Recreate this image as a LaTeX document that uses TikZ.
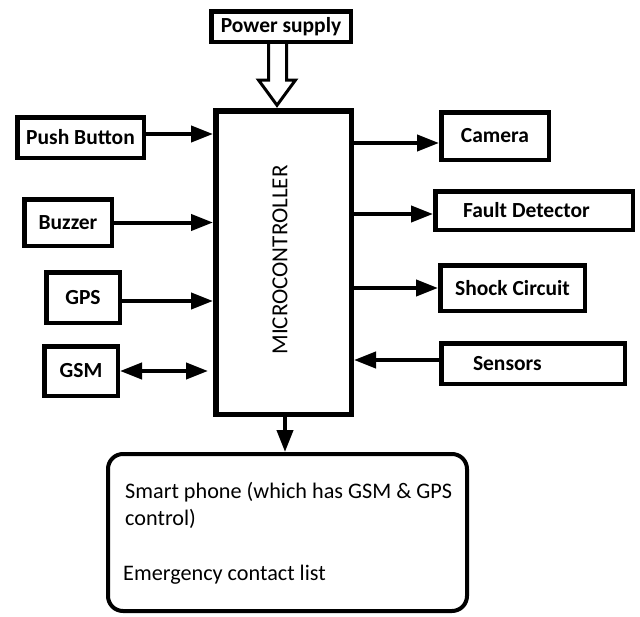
\documentclass[tikz,border=0pt]{standalone}
\usepackage{fontspec}
\setmainfont{Carlito}
\usetikzlibrary{arrows.meta,calc}

\tikzset{
  blk/.style={draw, line width=4.5pt, inner sep=0pt, font=\fontsize{21.5}{25}\selectfont\bfseries},
  link/.style={line width=4pt, -{Triangle[length=22pt,width=16pt]}},
  dlink/.style={line width=4pt, {Triangle[length=22pt,width=16pt]}-{Triangle[length=22pt,width=16pt]}},
  ptxt/.style={anchor=base west, inner sep=0pt, font=\fontsize{22.2}{26}\selectfont},
}

\begin{document}
\begin{tikzpicture}[x=1pt, y=-1pt]
    \useasboundingbox (0,0) rectangle (640,616);

    % Draw the controller and the supply
    \node[blk, minimum width=139.5pt, minimum height=30.5pt] (power) at (281,26.5) {Power supply};
    \node[draw, line width=5.5pt, minimum width=135.5pt, minimum height=303.5pt] (micro) at (283.5,262.5) {};
    \node[rotate=90, font=\fontsize{23}{27}\selectfont] (mctext) at (280,260) {MICROCONTROLLER};

    % Inputs on the left
    \node[blk, minimum width=126.5pt, minimum height=40.5pt] (push) at (80.5,137.5) {Push Button};
    \node[blk, minimum width=87.5pt, minimum height=46.5pt] (buzzer) at (68,222.5) {Buzzer};
    \node[blk, minimum width=73.5pt, minimum height=50.5pt] (gps) at (83,297.5) {GPS};
    \node[blk, minimum width=73.5pt, minimum height=49.5pt] (gsm) at (81,371) {GSM};

    % Outputs on the right
    \node[blk, minimum width=107.5pt, minimum height=47.5pt] (camera) at (495,136) {Camera};
    \node[blk, minimum width=197.5pt, minimum height=38.5pt, text width=142pt, align=flush left] (fault) at (534,210.5) {Fault Detector};
    \node[blk, minimum width=144.5pt, minimum height=45.5pt] (shock) at (512.5,288) {Shock Circuit};
    \node[blk, minimum width=183.5pt, minimum height=40.5pt, text width=120pt, align=flush left] (sensors) at (533,363.5) {Sensors};

    % Phone box at the bottom
    \node[draw, line width=4pt, rounded corners=15pt, minimum width=359pt, minimum height=157pt] (phone) at (287.5,532.5) {};
    \node[ptxt] (phline1) at (125,498) {Smart phone (which has GSM \& GPS};
    \node[ptxt] (phline2) at (125,525) {control)};
    \node[ptxt] (phline3) at (123,580) {Emergency contact list};

    % Hollow arrow for the supply
    \draw[line width=3pt, line join=miter]
        ($(power.south)+(-12.5,0)$) -- ($(power.south)+(-12.5,36)$) -- ($(power.south)+(-22.5,36)$)
        -- ($(micro.north)+(-6.5,-2.75)$)
        -- ($(power.south)+(14.5,36)$) -- ($(power.south)+(5.5,36)$) -- ($(power.south)+(5.5,0)$);

    % Connectors
    \draw[link] ([yshift=3.5pt]push.east) -- ([yshift=3.5pt]push.east -| micro.west);
    \draw[link] (buzzer.east) -- (buzzer.east -| micro.west);
    \draw[link] ([yshift=-3.5pt]gps.east) -- ([yshift=-3.5pt]gps.east -| micro.west);
    \draw[dlink, shorten >=5pt] (gsm.east) -- (gsm.east -| micro.west);

    \draw[link] ([yshift=-7pt]micro.east |- camera.west) -- ([yshift=-7pt]camera.west);
    \draw[link] ([yshift=-3.5pt]micro.east |- fault.west) -- ([yshift=-3.5pt]fault.west);
    \draw[link] (micro.east |- shock.west) -- (shock.west);
    \draw[link] ([yshift=3.5pt]sensors.west) -- ([yshift=3.5pt]sensors.west -| micro.east);

    \draw[link] ([xshift=1.5pt]micro.south) -- ([xshift=1.5pt]micro.south |- phone.north);

\end{tikzpicture}
\end{document}
